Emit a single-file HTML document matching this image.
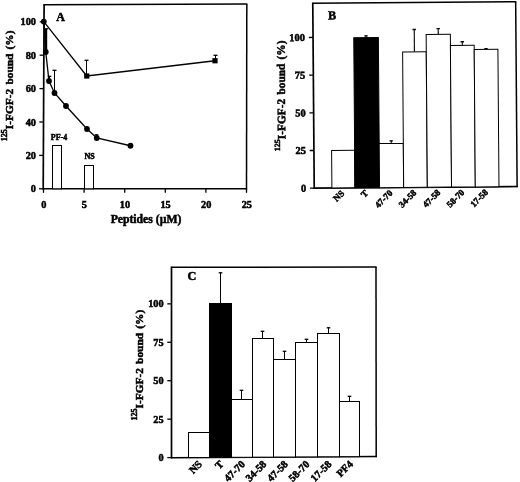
<!DOCTYPE html>
<html lang="en"><head><meta charset="utf-8"><title>Figure</title>
<style>
html,body{margin:0;padding:0;background:#fff;}
body{width:520px;height:482px;overflow:hidden;}
svg{display:block;font-family:'Liberation Serif','DejaVu Serif',serif;font-weight:bold;fill:#000;}
text{stroke:#000;stroke-width:0.5px;}
</style></head><body>
<svg width="520" height="482" viewBox="0 0 520 482">
<rect x="0" y="0" width="520" height="482" fill="#fff" stroke="none"/>
<g id="panelA">
<line x1="43.50" y1="4.80" x2="247.40" y2="4.00" stroke="#000" stroke-width="1.5"/>
<line x1="246.80" y1="4.00" x2="246.50" y2="189.50" stroke="#000" stroke-width="1.5"/>
<line x1="44.10" y1="4.20" x2="43.20" y2="189.50" stroke="#000" stroke-width="1.7"/>
<line x1="42.60" y1="188.80" x2="247.10" y2="188.80" stroke="#000" stroke-width="1.5999999999999999"/>
<line x1="39.00" y1="188.80" x2="43.20" y2="188.80" stroke="#000" stroke-width="1.3"/>
<text x="36.00" y="192.30" font-size="10.3" text-anchor="end">0</text>
<line x1="39.16" y1="155.40" x2="43.36" y2="155.40" stroke="#000" stroke-width="1.3"/>
<text x="36.00" y="158.90" font-size="10.3" text-anchor="end">20</text>
<line x1="39.33" y1="122.00" x2="43.53" y2="122.00" stroke="#000" stroke-width="1.3"/>
<text x="36.00" y="125.50" font-size="10.3" text-anchor="end">40</text>
<line x1="39.49" y1="88.60" x2="43.69" y2="88.60" stroke="#000" stroke-width="1.3"/>
<text x="36.00" y="92.10" font-size="10.3" text-anchor="end">60</text>
<line x1="39.65" y1="55.20" x2="43.85" y2="55.20" stroke="#000" stroke-width="1.3"/>
<text x="36.00" y="58.70" font-size="10.3" text-anchor="end">80</text>
<line x1="39.82" y1="21.80" x2="44.02" y2="21.80" stroke="#000" stroke-width="1.3"/>
<text x="36.00" y="25.30" font-size="10.3" text-anchor="end">100</text>
<line x1="43.50" y1="188.80" x2="43.50" y2="192.80" stroke="#000" stroke-width="1.3"/>
<text x="43.80" y="207.60" font-size="10.3" text-anchor="middle">0</text>
<line x1="84.10" y1="188.80" x2="84.10" y2="192.80" stroke="#000" stroke-width="1.3"/>
<text x="84.40" y="207.60" font-size="10.3" text-anchor="middle">5</text>
<line x1="124.70" y1="188.80" x2="124.70" y2="192.80" stroke="#000" stroke-width="1.3"/>
<text x="125.00" y="207.60" font-size="10.3" text-anchor="middle">10</text>
<line x1="165.30" y1="188.80" x2="165.30" y2="192.80" stroke="#000" stroke-width="1.3"/>
<text x="165.60" y="207.60" font-size="10.3" text-anchor="middle">15</text>
<line x1="205.90" y1="188.80" x2="205.90" y2="192.80" stroke="#000" stroke-width="1.3"/>
<text x="206.20" y="207.60" font-size="10.3" text-anchor="middle">20</text>
<line x1="246.50" y1="188.80" x2="246.50" y2="192.80" stroke="#000" stroke-width="1.3"/>
<text x="246.80" y="207.60" font-size="10.3" text-anchor="middle">25</text>
<text x="146.00" y="223.00" font-size="11.7" text-anchor="middle">Peptides (µM)</text>
<text x="56.20" y="20.60" font-size="12" text-anchor="start">A</text>
<text x="12.9" y="141.2" font-size="11.4" style="word-spacing:1.3px" transform="rotate(-90 12.9 141.2)"><tspan font-size="7.98" dy="-5.47">125</tspan><tspan dy="5.47">I-FGF-2 bound (%)</tspan></text>
<rect x="52.50" y="145.50" width="9.00" height="43.30" fill="#fff" stroke="#000" stroke-width="1.0"/>
<rect x="84.50" y="165.50" width="9.00" height="23.30" fill="#fff" stroke="#000" stroke-width="1.0"/>
<text x="59.00" y="140.00" font-size="8" text-anchor="middle">PF-4</text>
<text x="89.50" y="158.80" font-size="8" text-anchor="middle">NS</text>
<polyline fill="none" stroke="#000" stroke-width="1.3" points="43.8,21.6 86.75,76 215,60.75"/>
<line x1="86.50" y1="76.00" x2="86.50" y2="60.00" stroke="#000" stroke-width="1.0"/>
<line x1="84.50" y1="60.30" x2="88.50" y2="60.30" stroke="#000" stroke-width="1.3"/>
<line x1="215.50" y1="60.75" x2="215.50" y2="55.00" stroke="#000" stroke-width="1.0"/>
<line x1="213.50" y1="55.30" x2="217.50" y2="55.30" stroke="#000" stroke-width="1.3"/>
<rect x="84.15" y="73.4" width="5.2" height="5.2" fill="#000"/>
<rect x="212.4" y="58.15" width="5.2" height="5.2" fill="#000"/>
<polyline fill="none" stroke="#000" stroke-width="1.3" points="43.8,21.6 45.75,52 49,81 54.5,93 66,106 87,129 96.75,138 130.5,145.75"/>
<line x1="45.90" y1="28.50" x2="45.90" y2="52.00" stroke="#000" stroke-width="2.6"/>
<line x1="45.00" y1="28.80" x2="48.20" y2="28.80" stroke="#000" stroke-width="1.2"/>
<line x1="49.50" y1="81.00" x2="49.50" y2="76.00" stroke="#000" stroke-width="1.0"/>
<line x1="47.70" y1="76.30" x2="51.30" y2="76.30" stroke="#000" stroke-width="1.3"/>
<line x1="54.50" y1="93.00" x2="54.50" y2="70.00" stroke="#000" stroke-width="1.0"/>
<line x1="52.50" y1="70.30" x2="56.50" y2="70.30" stroke="#000" stroke-width="1.3"/>
<line x1="96.50" y1="138.00" x2="96.50" y2="134.50" stroke="#000" stroke-width="1.0"/>
<line x1="94.70" y1="134.80" x2="98.30" y2="134.80" stroke="#000" stroke-width="1.3"/>
<circle cx="43.8" cy="21.6" r="2.9" fill="#000"/>
<circle cx="45.75" cy="52" r="2.9" fill="#000"/>
<circle cx="49" cy="81" r="2.9" fill="#000"/>
<circle cx="54.5" cy="93" r="2.9" fill="#000"/>
<circle cx="66" cy="106" r="2.9" fill="#000"/>
<circle cx="87" cy="129" r="2.9" fill="#000"/>
<circle cx="96.75" cy="138" r="2.9" fill="#000"/>
<circle cx="130.5" cy="145.75" r="2.9" fill="#000"/>
</g>
<g id="panelB" transform="rotate(-0.45 415.0 95.0)">
<line x1="312.90" y1="2.55" x2="517.00" y2="2.55" stroke="#000" stroke-width="1.5"/>
<line x1="516.40" y1="2.55" x2="516.40" y2="188.05" stroke="#000" stroke-width="1.5"/>
<line x1="313.50" y1="1.95" x2="313.50" y2="188.05" stroke="#000" stroke-width="1.7"/>
<line x1="312.90" y1="187.35" x2="517.00" y2="187.35" stroke="#000" stroke-width="1.5999999999999999"/>
<line x1="309.30" y1="187.35" x2="313.50" y2="187.35" stroke="#000" stroke-width="1.3"/>
<text x="305.50" y="190.85" font-size="10.5" text-anchor="end">0</text>
<line x1="309.30" y1="149.68" x2="313.50" y2="149.68" stroke="#000" stroke-width="1.3"/>
<text x="305.50" y="153.18" font-size="10.5" text-anchor="end">25</text>
<line x1="309.30" y1="112.00" x2="313.50" y2="112.00" stroke="#000" stroke-width="1.3"/>
<text x="305.50" y="115.50" font-size="10.5" text-anchor="end">50</text>
<line x1="309.30" y1="74.33" x2="313.50" y2="74.33" stroke="#000" stroke-width="1.3"/>
<text x="305.50" y="77.83" font-size="10.5" text-anchor="end">75</text>
<line x1="309.30" y1="36.65" x2="313.50" y2="36.65" stroke="#000" stroke-width="1.3"/>
<text x="305.50" y="40.15" font-size="10.5" text-anchor="end">100</text>
<text x="328.59" y="18.92" font-size="12.3" text-anchor="start">B</text>
<text x="285.06" y="150.18" font-size="11.4" style="word-spacing:1.3px" transform="rotate(-90 285.06 150.18)"><tspan font-size="7.98" dy="-5.47">125</tspan><tspan dy="5.47">I-FGF-2 bound (%)</tspan></text>
<rect x="331.17" y="149.83" width="23.00" height="37.52" fill="#fff" stroke="#000" stroke-width="1.0"/>
<line x1="366.51" y1="37.32" x2="366.51" y2="35.22" stroke="#000" stroke-width="1.1"/>
<line x1="364.81" y1="35.52" x2="368.21" y2="35.52" stroke="#000" stroke-width="1.4000000000000001"/>
<rect x="354.21" y="37.32" width="24.60" height="150.03" fill="#000" stroke="#000" stroke-width="1.0"/>
<line x1="390.86" y1="143.31" x2="390.86" y2="140.41" stroke="#000" stroke-width="1.1"/>
<line x1="389.16" y1="140.71" x2="392.56" y2="140.71" stroke="#000" stroke-width="1.4000000000000001"/>
<rect x="378.81" y="143.31" width="24.10" height="44.04" fill="#fff" stroke="#000" stroke-width="1.0"/>
<line x1="414.75" y1="51.80" x2="414.75" y2="29.20" stroke="#000" stroke-width="1.1"/>
<line x1="413.05" y1="29.50" x2="416.45" y2="29.50" stroke="#000" stroke-width="1.4000000000000001"/>
<rect x="402.95" y="51.80" width="23.60" height="135.55" fill="#fff" stroke="#000" stroke-width="1.0"/>
<line x1="438.73" y1="34.48" x2="438.73" y2="28.49" stroke="#000" stroke-width="1.1"/>
<line x1="437.03" y1="28.79" x2="440.43" y2="28.79" stroke="#000" stroke-width="1.4000000000000001"/>
<rect x="426.63" y="34.48" width="24.20" height="152.87" fill="#fff" stroke="#000" stroke-width="1.0"/>
<line x1="462.69" y1="45.77" x2="462.69" y2="41.87" stroke="#000" stroke-width="1.1"/>
<line x1="460.99" y1="42.17" x2="464.39" y2="42.17" stroke="#000" stroke-width="1.4000000000000001"/>
<rect x="450.79" y="45.77" width="23.80" height="141.58" fill="#fff" stroke="#000" stroke-width="1.0"/>
<line x1="486.41" y1="49.86" x2="486.41" y2="48.96" stroke="#000" stroke-width="1.1"/>
<line x1="484.71" y1="49.26" x2="488.11" y2="49.26" stroke="#000" stroke-width="1.4000000000000001"/>
<rect x="474.56" y="49.86" width="23.70" height="137.49" fill="#fff" stroke="#000" stroke-width="1.0"/>
<text x="344.17" y="193.35" font-size="9" text-anchor="end" transform="rotate(-45 344.17 193.35)" stroke-width="0.6">NS</text>
<text x="368.01" y="193.35" font-size="9" text-anchor="end" transform="rotate(-45 368.01 193.35)" stroke-width="0.6">T</text>
<text x="392.36" y="193.35" font-size="9" text-anchor="end" transform="rotate(-45 392.36 193.35)" stroke-width="0.6">47-70</text>
<text x="416.25" y="193.35" font-size="9" text-anchor="end" transform="rotate(-45 416.25 193.35)" stroke-width="0.6">34-58</text>
<text x="440.23" y="193.35" font-size="9" text-anchor="end" transform="rotate(-45 440.23 193.35)" stroke-width="0.6">47-58</text>
<text x="464.19" y="193.35" font-size="9" text-anchor="end" transform="rotate(-45 464.19 193.35)" stroke-width="0.6">58-70</text>
<text x="487.91" y="193.35" font-size="9" text-anchor="end" transform="rotate(-45 487.91 193.35)" stroke-width="0.6">17-58</text>
</g>
<g id="panelC">
<line x1="170.90" y1="267.30" x2="376.60" y2="266.90" stroke="#000" stroke-width="1.5"/>
<line x1="376.00" y1="266.90" x2="376.20" y2="457.20" stroke="#000" stroke-width="1.5"/>
<line x1="171.50" y1="266.70" x2="171.50" y2="458.40" stroke="#000" stroke-width="1.7"/>
<line x1="170.90" y1="457.70" x2="376.80" y2="456.50" stroke="#000" stroke-width="1.5999999999999999"/>
<line x1="167.30" y1="457.60" x2="171.50" y2="457.60" stroke="#000" stroke-width="1.3"/>
<text x="163.60" y="461.10" font-size="10.3" text-anchor="end">0</text>
<line x1="167.30" y1="419.16" x2="171.50" y2="419.16" stroke="#000" stroke-width="1.3"/>
<text x="163.60" y="422.66" font-size="10.3" text-anchor="end">25</text>
<line x1="167.30" y1="380.73" x2="171.50" y2="380.73" stroke="#000" stroke-width="1.3"/>
<text x="163.60" y="384.23" font-size="10.3" text-anchor="end">50</text>
<line x1="167.30" y1="342.29" x2="171.50" y2="342.29" stroke="#000" stroke-width="1.3"/>
<text x="163.60" y="345.79" font-size="10.3" text-anchor="end">75</text>
<line x1="167.30" y1="303.85" x2="171.50" y2="303.85" stroke="#000" stroke-width="1.3"/>
<text x="163.60" y="307.35" font-size="10.3" text-anchor="end">100</text>
<text x="187.50" y="279.60" font-size="12.3" text-anchor="start">C</text>
<text x="142.6" y="420.5" font-size="11.4" style="word-spacing:1.3px" transform="rotate(-90 142.6 420.5)"><tspan font-size="7.98" dy="-5.47">125</tspan><tspan dy="5.47">I-FGF-2 bound (%)</tspan></text>
<rect x="188.50" y="432.50" width="21.00" height="25.04" fill="#fff" stroke="#000" stroke-width="1.0"/>
<line x1="220.50" y1="303.50" x2="220.50" y2="272.50" stroke="#000" stroke-width="1.0"/>
<line x1="218.70" y1="272.80" x2="222.30" y2="272.80" stroke="#000" stroke-width="1.3"/>
<rect x="209.50" y="303.50" width="22.00" height="153.92" fill="#000" stroke="#000" stroke-width="1.0"/>
<line x1="241.50" y1="399.50" x2="241.50" y2="390.00" stroke="#000" stroke-width="1.0"/>
<line x1="239.70" y1="390.30" x2="243.30" y2="390.30" stroke="#000" stroke-width="1.3"/>
<rect x="231.50" y="399.50" width="21.00" height="57.79" fill="#fff" stroke="#000" stroke-width="1.0"/>
<line x1="262.50" y1="338.00" x2="262.50" y2="331.00" stroke="#000" stroke-width="1.0"/>
<line x1="260.70" y1="331.30" x2="264.30" y2="331.30" stroke="#000" stroke-width="1.3"/>
<rect x="252.50" y="338.50" width="21.00" height="118.66" fill="#fff" stroke="#000" stroke-width="1.0"/>
<line x1="284.50" y1="359.00" x2="284.50" y2="351.00" stroke="#000" stroke-width="1.0"/>
<line x1="282.70" y1="351.30" x2="286.30" y2="351.30" stroke="#000" stroke-width="1.3"/>
<rect x="273.50" y="359.50" width="22.00" height="97.54" fill="#fff" stroke="#000" stroke-width="1.0"/>
<line x1="306.50" y1="342.50" x2="306.50" y2="339.00" stroke="#000" stroke-width="1.0"/>
<line x1="304.70" y1="339.30" x2="308.30" y2="339.30" stroke="#000" stroke-width="1.3"/>
<rect x="295.50" y="342.50" width="22.00" height="114.41" fill="#fff" stroke="#000" stroke-width="1.0"/>
<line x1="328.50" y1="333.75" x2="328.50" y2="327.50" stroke="#000" stroke-width="1.0"/>
<line x1="326.70" y1="327.80" x2="330.30" y2="327.80" stroke="#000" stroke-width="1.3"/>
<rect x="317.50" y="333.50" width="22.00" height="123.28" fill="#fff" stroke="#000" stroke-width="1.0"/>
<line x1="349.50" y1="401.00" x2="349.50" y2="396.00" stroke="#000" stroke-width="1.0"/>
<line x1="347.70" y1="396.30" x2="351.30" y2="396.30" stroke="#000" stroke-width="1.3"/>
<rect x="339.50" y="401.50" width="20.00" height="55.16" fill="#fff" stroke="#000" stroke-width="1.0"/>
<text x="202.70" y="464.80" font-size="10.5" text-anchor="end" transform="rotate(-45 202.70 464.80)" stroke-width="0.6">NS</text>
<text x="224.20" y="464.80" font-size="10.5" text-anchor="end" transform="rotate(-45 224.20 464.80)" stroke-width="0.6">T</text>
<text x="245.70" y="464.80" font-size="10.5" text-anchor="end" transform="rotate(-45 245.70 464.80)" stroke-width="0.6">47-70</text>
<text x="267.07" y="464.80" font-size="10.5" text-anchor="end" transform="rotate(-45 267.07 464.80)" stroke-width="0.6">34-58</text>
<text x="288.57" y="464.80" font-size="10.5" text-anchor="end" transform="rotate(-45 288.57 464.80)" stroke-width="0.6">47-58</text>
<text x="310.20" y="464.80" font-size="10.5" text-anchor="end" transform="rotate(-45 310.20 464.80)" stroke-width="0.6">58-70</text>
<text x="332.20" y="464.80" font-size="10.5" text-anchor="end" transform="rotate(-45 332.20 464.80)" stroke-width="0.6">17-58</text>
<text x="353.60" y="464.80" font-size="10.5" text-anchor="end" transform="rotate(-45 353.60 464.80)" stroke-width="0.6">PF4</text>
</g>
</svg>
</body></html>
